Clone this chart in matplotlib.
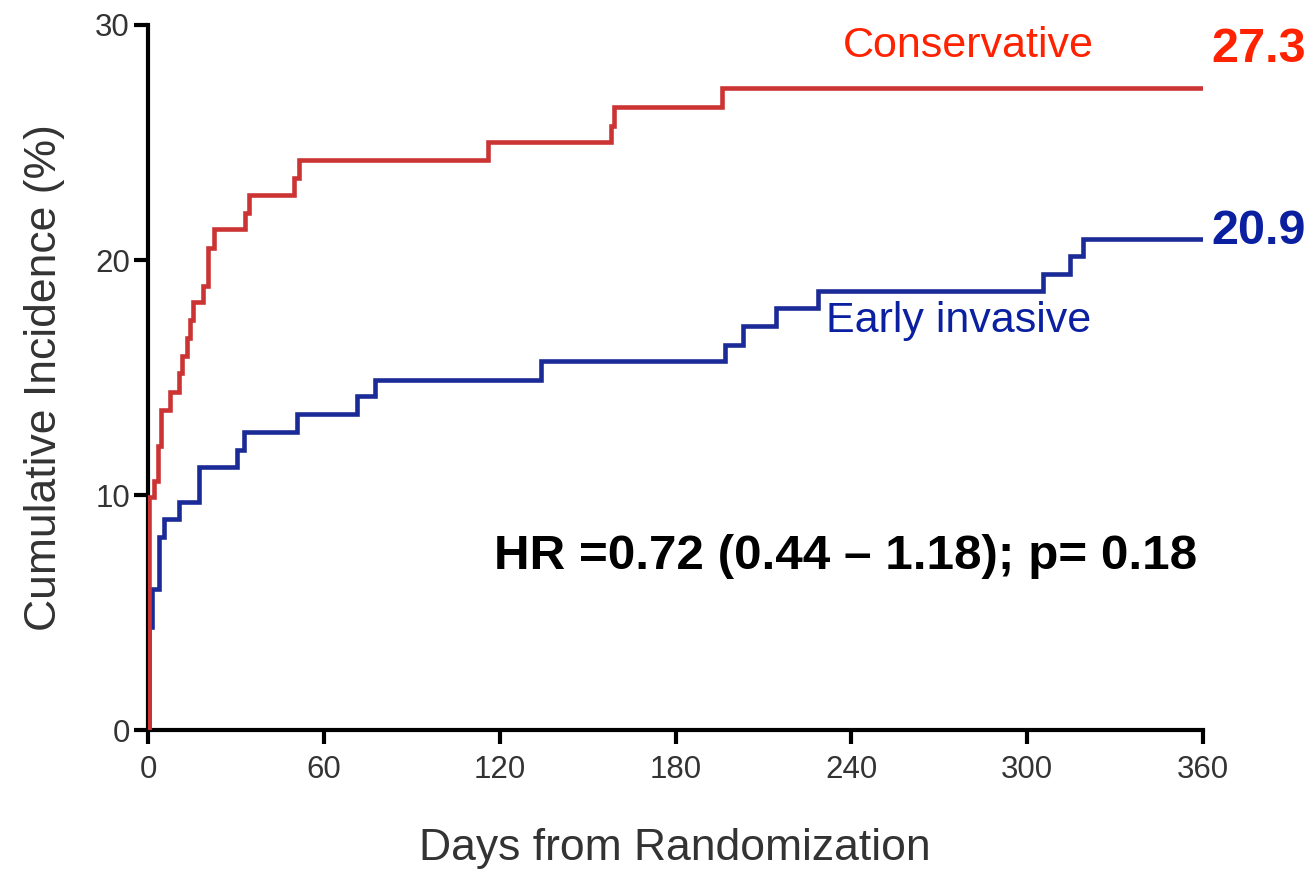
import matplotlib
matplotlib.use("Agg")
import matplotlib.pyplot as plt

# ---- data ----
red_days = [0, 0.3, 2.0, 3.3, 4.3, 7.4, 10.6, 11.5, 13.4, 14.2, 15.2, 18.6, 20.5,
            22.5, 33.0, 34.5, 49.7, 51.6, 116, 158, 159, 196, 360]
red_vals = [0, 9.9, 10.6, 12.1, 13.6, 14.4, 15.2, 15.9, 16.7, 17.45, 18.2, 18.9, 20.5,
            21.3, 22.0, 22.75, 23.5, 24.25, 25.0, 25.7, 26.5, 27.3, 27.3]

blue_days = [0, 0.5, 1.5, 3.8, 5.5, 10.6, 17.4, 30.5, 32.8, 50.8, 71.3, 77.6, 134,
             197, 203, 214.4, 228.6, 305.5, 314.6, 319, 360]
blue_vals = [0, 4.4, 6.0, 8.2, 9.0, 9.7, 11.2, 11.9, 12.7, 13.45, 14.2, 14.9, 15.7,
             16.4, 17.2, 17.95, 18.7, 19.4, 20.15, 20.9, 20.9]

x_ticks = [0, 60, 120, 180, 240, 300, 360]
y_ticks = [0, 10, 20, 30]

red_label = "Conservative"
blue_label = "Early invasive"
red_final = "27.3"
blue_final = "20.9"
hr_text = "HR =0.72 (0.44 \u2013 1.18); p= 0.18"
x_label = "Days from Randomization"
y_label = "Cumulative Incidence (%)"

plt.rcParams['font.family'] = ['Liberation Sans', 'DejaVu Sans']

W, H = 1311, 872
fig = plt.figure(figsize=(W / 100, H / 100), dpi=100)
ax = fig.add_axes([148 / W, 1 - 730 / H, (1203 - 148) / W, (730 - 25) / H])

line_red = '#CC3333'
line_blue = '#1A2A96'
text_red = '#FF2200'
text_blue = '#0A20A0'
gray = '#333333'

ax.step(blue_days, blue_vals, where='post', color=line_blue, lw=3.3, zorder=3,
        solid_joinstyle='miter')
ax.step(red_days, red_vals, where='post', color=line_red, lw=3.3, zorder=4,
        solid_joinstyle='miter')

ax.set_xlim(0, 360)
ax.set_ylim(0, 30)
ax.set_xticks(x_ticks)
ax.set_yticks(y_ticks)
ax.set_xticklabels([str(t) for t in x_ticks])
ax.set_yticklabels([str(t) for t in y_ticks])

for s in ['top', 'right']:
    ax.spines[s].set_visible(False)
for s in ['left', 'bottom']:
    ax.spines[s].set_linewidth(3)
    ax.spines[s].set_color('black')

ax.tick_params(axis='both', direction='out', length=10, width=3, color='black',
               labelsize=22.5, labelcolor=gray)
ax.tick_params(axis='y', pad=3)
ax.tick_params(axis='x', pad=8)

# annotations
ax.text(280, 29.1, red_label, color=text_red, fontsize=31, ha='center', va='center')
ax.text(363, 28.95, red_final, color=text_red, fontsize=35, fontweight='bold',
        ha='left', va='center', clip_on=False)
ax.text(363, 21.2, blue_final, color=text_blue, fontsize=35, fontweight='bold',
        ha='left', va='center', clip_on=False)
ax.text(231.5, 17.4, blue_label, color=text_blue, fontsize=31, ha='left', va='center')
ax.text(118, 7.4, hr_text, color='black', fontsize=35.6, fontweight='bold',
        ha='left', va='center')

fig.text(45 / W, 1 - 378 / H, y_label, rotation=90, fontsize=32, color=gray,
         ha='center', va='center', family=['Liberation Sans Narrow', 'Liberation Sans', 'DejaVu Sans'])
fig.text(675 / W, 1 - 848 / H, x_label, fontsize=32, color=gray,
         ha='center', va='center')

fig.savefig('out.png', dpi=100, facecolor='white')
